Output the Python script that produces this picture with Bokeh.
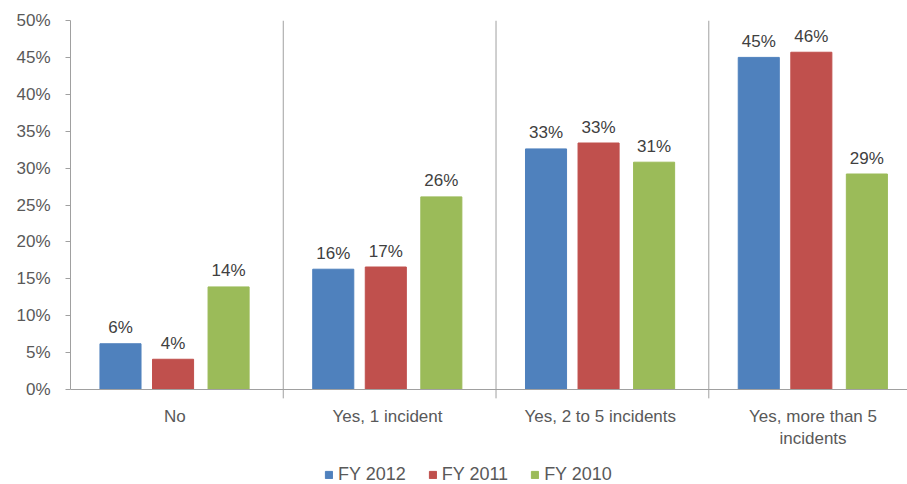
from bokeh.plotting import figure
from bokeh.models import Range1d, FixedTicker, Span, Legend, LegendItem, ColumnDataSource
from bokeh.core.properties import value
from bokeh.embed import file_html
from bokeh.resources import INLINE

categories = ["No", "Yes, 1 incident", "Yes, 2 to 5 incidents", "Yes, more than 5\nincidents"]
series_names = ["FY 2012", "FY 2011", "FY 2010"]
fy2012 = [6.2, 16.3, 32.6, 45.0]
fy2011 = [4.1, 16.6, 33.4, 45.7]
fy2010 = [13.9, 26.1, 30.8, 29.2]
y_ticks = [0, 5, 10, 15, 20, 25, 30, 35, 40, 45, 50]

colors = ["#4f81bd", "#c0504d", "#9bbb59"]
offsets = [0.235, 0.482, 0.743]
FONT = "Liberation Sans"

p = figure(width=907, height=484, output_backend="svg", toolbar_location=None,
           x_range=Range1d(0, 3.934), y_range=Range1d(-12.87, 50),
           min_border_left=70, min_border_right=0, min_border_top=20, min_border_bottom=0)
p.outline_line_color = None
p.grid.visible = False
p.xaxis.visible = False
p.background_fill_color = "white"

# y axis
p.yaxis.ticker = FixedTicker(ticks=y_ticks)
p.yaxis.major_label_overrides = {t: f"{t}%" for t in y_ticks}
p.yaxis.bounds = (0, 50)
p.yaxis.axis_line_color = "#a0a0a0"
p.yaxis.major_tick_line_color = "#a0a0a0"
p.yaxis.major_tick_out = 5
p.yaxis.major_tick_in = 0
p.yaxis.minor_tick_line_color = None
p.yaxis.major_label_standoff = 15
p.yaxis.major_label_text_font = FONT
p.yaxis.major_label_text_font_size = "17px"
p.yaxis.major_label_text_color = "#595959"

# baseline (x axis line)
p.add_layout(Span(location=0, dimension="width", line_color="#a0a0a0", line_width=1))

# separators between categories
seps = [1, 2, 3]
p.segment(x0=seps, y0=[-1.2] * 3, x1=seps, y1=[50] * 3, line_color="#a0a0a0", line_width=1)

# category labels (one entry per line)
lx, ly, lt, loff = [], [], [], []
for i, cat in enumerate(categories):
    for j, line in enumerate(cat.split("\n")):
        lx.append(i + 0.49)
        ly.append(0)
        lt.append(line)
        loff.append(27 + 22 * j)
cat_src = ColumnDataSource(dict(x=lx, y=ly, text=lt, yoff=loff))
p.text(x="x", y="y", text="text", y_offset="yoff", source=cat_src, text_align="center",
       text_baseline="alphabetic", text_font=value(FONT), text_font_size="17px",
       text_color="#595959")

items = []
for name, vals, col, off in zip(series_names, [fy2012, fy2011, fy2010], colors, offsets):
    xs = [i + off for i in range(len(vals))]
    src = ColumnDataSource(dict(x=xs, top=vals, lab=[f"{round(v)}%" for v in vals]))
    r = p.vbar(x="x", top="top", bottom=0, width=0.193, source=src, fill_color=col, line_color=col)
    p.text(x="x", y="top", text="lab", source=src, text_align="center", text_baseline="alphabetic",
           y_offset=-16, text_font=value(FONT), text_font_size="17px", text_color="#404040")
    items.append(LegendItem(label=name, renderers=[r]))

legend = Legend(items=items, orientation="horizontal", location=(254, -1),
                glyph_width=9, glyph_height=9, label_standoff=5, spacing=22,
                padding=0, margin=0, border_line_color=None, background_fill_alpha=0,
                label_text_font=FONT, label_text_font_size="18px", label_text_color="#595959")
p.add_layout(legend, "center")

open("out.html", "w").write(file_html(p, INLINE))
